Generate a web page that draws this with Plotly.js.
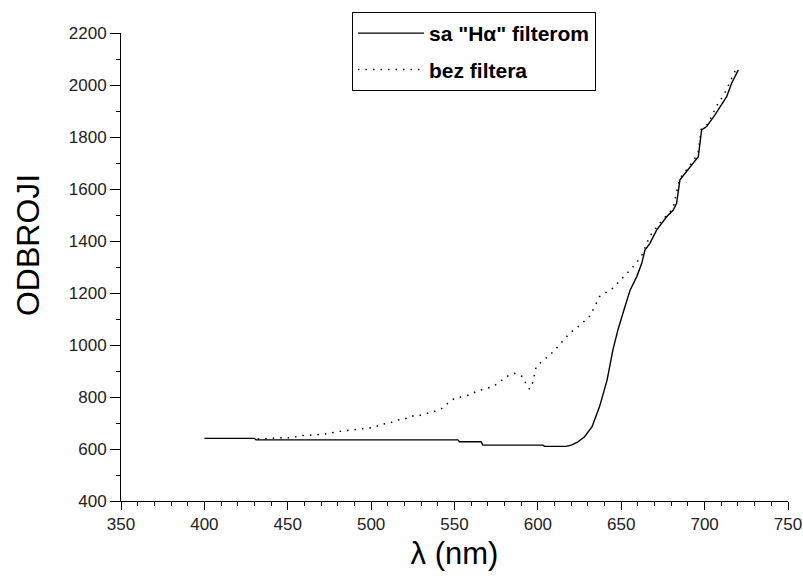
<!DOCTYPE html>
<html>
<head>
<meta charset="utf-8">
<script src="https://cdn.plot.ly/plotly-3.0.1.min.js"></script>
<style>html,body{margin:0;padding:0;background:#fff;}#chart{width:803px;height:581px;}</style>
</head>
<body>
<div id="chart"></div>
<script>
// "sa Hα filterom" (solid)
var filterX = [400, 430, 431, 552, 553, 566, 567, 603, 604, 617, 620, 623.5, 628, 632.5, 637, 641.5, 645, 648, 652.2, 655.3, 659.3, 662.3, 664.2, 667.2, 671.2, 677.2, 681.2, 683.2, 685.2, 688.2, 693.2, 696.2, 698.2, 701.2, 706.2, 708.2, 713.2, 716.2, 720.2];
var filterY = [641, 641, 635, 635, 628, 628, 615, 615, 610, 610, 615, 625, 647, 686, 763, 865, 981, 1058, 1147, 1211, 1263, 1314, 1365, 1391, 1442, 1493, 1519, 1545, 1635, 1660, 1698, 1724, 1827, 1840, 1885, 1904, 1955, 2007, 2058];
// "bez filtera" (dotted)
var noFilterX = [432, 439, 444, 453, 457, 466, 475, 480, 488, 496, 502, 506, 511, 515, 520, 524, 528, 537, 542, 546, 550, 555, 559, 564, 568, 573, 577, 581, 586, 591, 593, 595, 597, 598, 599, 603, 607, 611, 615, 619, 625, 631, 635, 637, 645, 651, 657, 662, 667, 673, 681, 685, 690, 696, 698, 702, 707, 712, 719];
var noFilterY = [638, 641, 643, 643, 651, 654, 660, 667, 673, 680, 683, 695, 699, 711, 715, 727, 727, 743, 754, 776, 795, 801, 808, 824, 830, 840, 857, 878, 891, 878, 849, 830, 857, 885, 917, 940, 960, 987, 1016, 1045, 1075, 1110, 1160, 1186, 1219, 1258, 1300, 1340, 1417, 1468, 1525, 1640, 1680, 1735, 1830, 1850, 1917, 1968, 2064];

var seriesNames = ['sa "H\u03b1" filterom', 'bez filtera'];
var xTitle = '\u03bb (nm)';
var yTitle = 'ODBROJI';

var traces = [
  {x: filterX, y: filterY, type: 'scatter', mode: 'lines', name: seriesNames[0], legendgroup: 'a',
   line: {color: '#000', width: 1.4}},
  {x: noFilterX, y: noFilterY, type: 'scatter', mode: 'lines', name: seriesNames[1], legendgroup: 'b',
   line: {color: '#000', width: 1.5, dash: '1.5px,6px'}}
];

var fam = 'Arial, "Liberation Sans", sans-serif';
var tickFont = {family: fam, size: 17, color: '#222'};
var layout = {
  width: 803, height: 581,
  margin: {l: 121, r: 15, t: 33, b: 80},
  paper_bgcolor: '#fff', plot_bgcolor: '#fff',
  showlegend: true,
  legend: {
    x: 0.3463, y: 1.0449, xanchor: 'left', yanchor: 'top',
    bordercolor: '#000', borderwidth: 1, bgcolor: '#fff',
    font: {family: fam, size: 21, color: '#000', weight: 'bold'},
    itemwidth: 66, tracegroupgap: 6, traceorder: 'grouped'
  },
  xaxis: {
    range: [350, 750], tick0: 350, dtick: 50, ticks: 'outside', ticklen: 8, tickwidth: 1, tickcolor: '#000',
    minor: {dtick: 10, ticks: 'outside', ticklen: 4, tickcolor: '#000', showgrid: false},
    showline: true, linecolor: '#000', linewidth: 1, showgrid: false, zeroline: false,
    tickfont: tickFont, automargin: false,
    title: {text: xTitle, font: {family: fam, size: 31, color: '#000'}, standoff: 8}
  },
  yaxis: {
    range: [400, 2200], tick0: 400, dtick: 200, ticks: 'outside', ticklen: 10, tickwidth: 1, tickcolor: '#000',
    minor: {dtick: 100, ticks: 'outside', ticklen: 4, tickcolor: '#000', showgrid: false},
    showline: true, linecolor: '#000', linewidth: 1, showgrid: false, zeroline: false,
    tickfont: tickFont, automargin: false
  },
  annotations: [{
    text: yTitle, textangle: -90, showarrow: false,
    xref: 'paper', yref: 'paper', x: -0.1394, y: 0.547, xanchor: 'center', yanchor: 'middle',
    font: {family: fam, size: 32, color: '#000'}
  }]
};

Plotly.newPlot('chart', traces, layout, {displayModeBar: false, staticPlot: true});
</script>
</body>
</html>
